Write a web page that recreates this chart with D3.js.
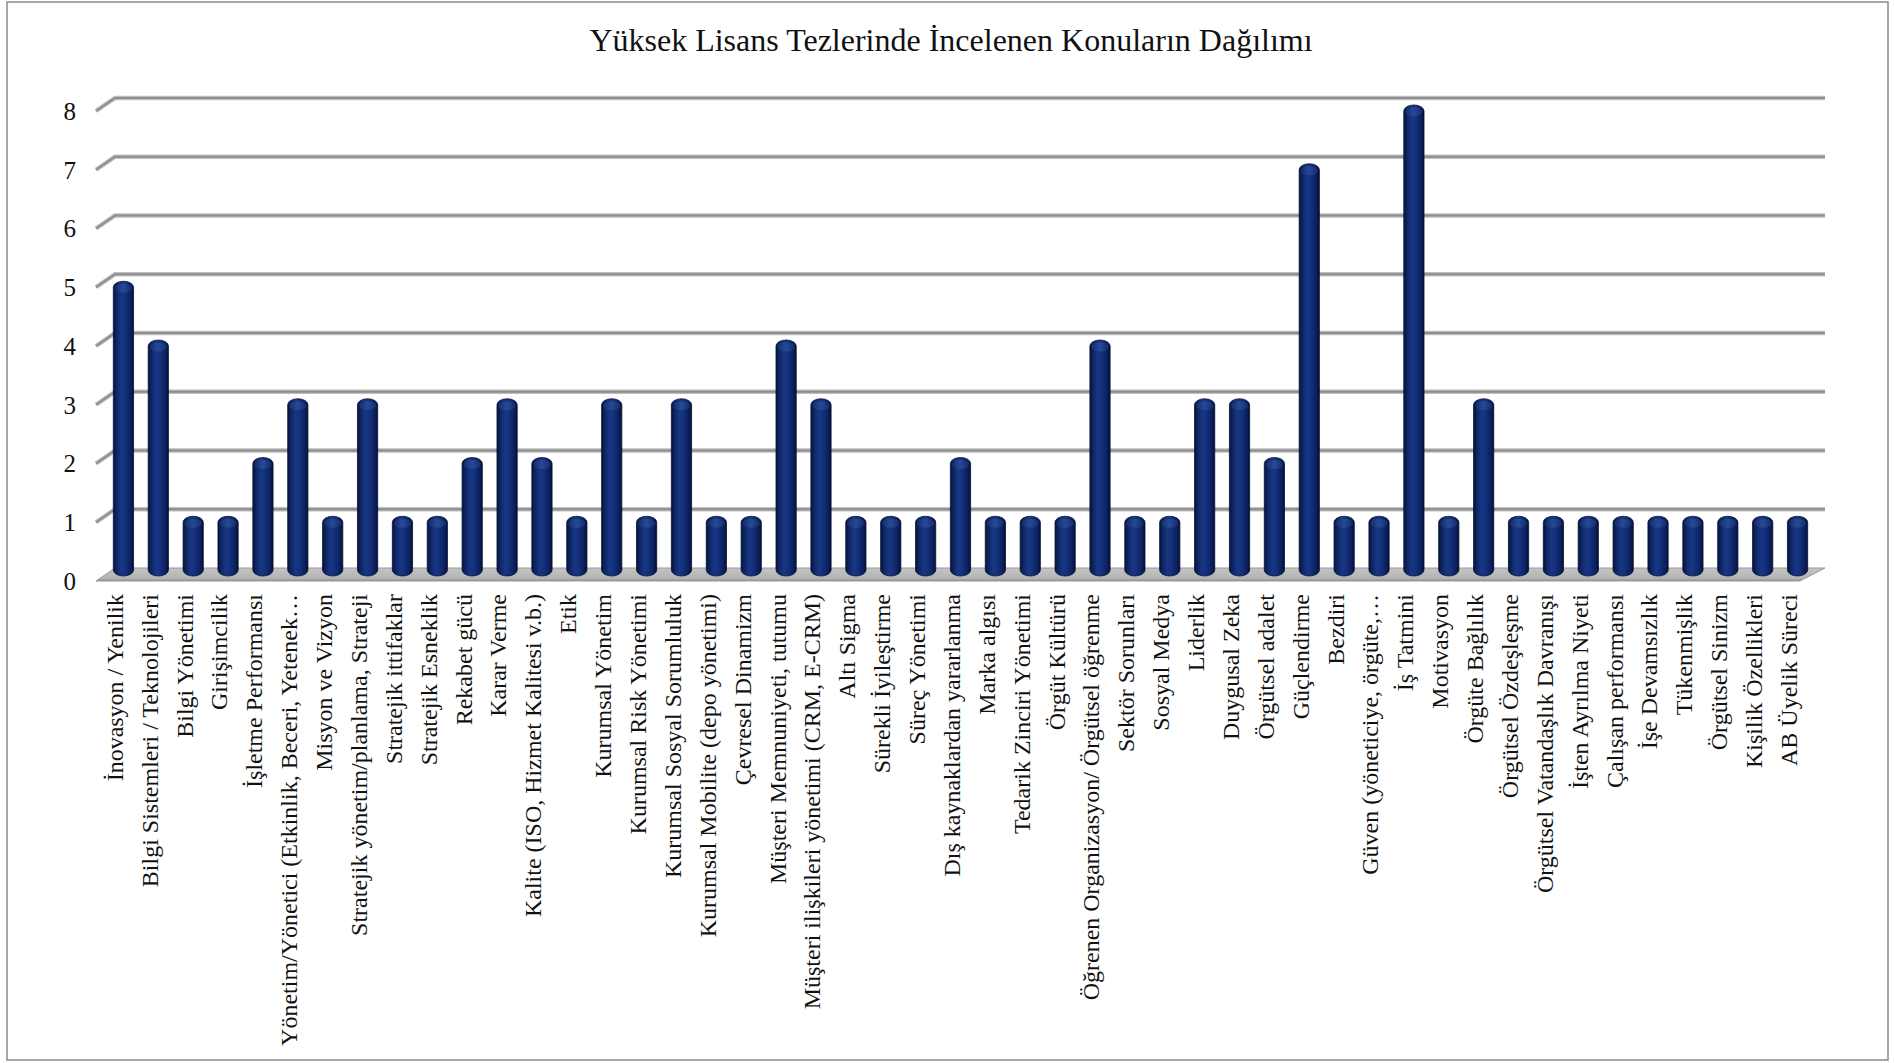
<!DOCTYPE html>
<html>
<head>
<meta charset="utf-8">
<script src="https://cdn.jsdelivr.net/npm/d3@7"></script>
<style>
  html, body { margin: 0; padding: 0; background: #ffffff; }
  svg { display: block; }
</style>
</head>
<body>
<svg id="chart" width="1894" height="1063"></svg>
<script>
const title = "Yüksek Lisans Tezlerinde İncelenen Konuların Dağılımı";

const categories = [
  "İnovasyon / Yenilik",
  "Bilgi Sistemleri / Teknolojileri",
  "Bilgi Yönetimi",
  "Girişimcilik",
  "İşletme Performansı",
  "Yönetim/Yönetici (Etkinlik, Beceri, Yetenek…",
  "Misyon ve Vizyon",
  "Stratejik yönetim/planlama, Strateji",
  "Stratejik ittifaklar",
  "Stratejik Esneklik",
  "Rekabet gücü",
  "Karar Verme",
  "Kalite (ISO, Hizmet Kalitesi v.b.)",
  "Etik",
  "Kurumsal Yönetim",
  "Kurumsal Risk Yönetimi",
  "Kurumsal Sosyal Sorumluluk",
  "Kurumsal Mobilite (depo yönetimi)",
  "Çevresel Dinamizm",
  "Müşteri Memnuniyeti, tutumu",
  "Müşteri ilişkileri yönetimi (CRM, E-CRM)",
  "Altı Sigma",
  "Sürekli İyileştirme",
  "Süreç Yönetimi",
  "Dış kaynaklardan yararlanma",
  "Marka algısı",
  "Tedarik Zinciri Yönetimi",
  "Örgüt Kültürü",
  "Öğrenen Organizasyon/ Örgütsel öğrenme",
  "Sektör Sorunları",
  "Sosyal Medya",
  "Liderlik",
  "Duygusal Zeka",
  "Örgütsel adalet",
  "Güçlendirme",
  "Bezdiri",
  "Güven (yöneticiye, örgüte,…",
  "İş Tatmini",
  "Motivasyon",
  "Örgüte Bağlılık",
  "Örgütsel Özdeşleşme",
  "Örgütsel Vatandaşlık Davranışı",
  "İşten Ayrılma Niyeti",
  "Çalışan performansı",
  "İşe Devamsızlık",
  "Tükenmişlik",
  "Örgütsel Sinizm",
  "Kişilik Özellikleri",
  "AB Üyelik Süreci"
];

const values = [
  5, 4, 1, 1, 2, 3, 1, 3, 1, 1,
  2, 3, 2, 1, 3, 1, 3, 1, 1, 4,
  3, 1, 1, 1, 2, 1, 1, 1, 4, 1,
  1, 3, 3, 2, 7, 1, 1, 8, 1, 3,
  1, 1, 1, 1, 1, 1, 1, 1, 1
];

const yTicks = [0, 1, 2, 3, 4, 5, 6, 7, 8];

// ---------- layout ----------
const svg = d3.select("#chart");
const serif = "'Liberation Serif', 'Times New Roman', serif";

// 3D-ish geometry: back wall, middle (bars), front (labels)
const yBack  = d3.scaleLinear().domain([0, 8]).range([568, 98]);
const yMid   = d3.scaleLinear().domain([0, 8]).range([575, 105]);
const yFront = d3.scaleLinear().domain([0, 8]).range([581, 111]);

const xBack  = d3.scaleBand().domain(categories).range([115, 1825]);
const xMid   = d3.scaleBand().domain(categories).range([106, 1815]).paddingInner(0.42).paddingOuter(0.21);
const xFront = d3.scaleBand().domain(categories).range([96, 1800]);

// outer frame
svg.append("rect")
  .attr("x", 7).attr("y", 2).attr("width", 1881).attr("height", 1058)
  .attr("fill", "#ffffff").attr("stroke", "#8a8a8a").attr("stroke-width", 1.5);

// title
svg.append("text")
  .attr("x", 951).attr("y", 40).attr("dy", "0.35em")
  .attr("text-anchor", "middle")
  .style("font-family", serif).style("font-size", "32px").style("fill", "#111")
  .text(title);

// defs: gradients
const defs = svg.append("defs");
const grad = defs.append("linearGradient").attr("id", "barGrad")
  .attr("x1", "0%").attr("x2", "100%").attr("y1", "0%").attr("y2", "0%");
[["0%", "#06143c"], ["18%", "#0f2767"], ["40%", "#183784"], ["60%", "#14307b"], ["85%", "#0b205e"], ["100%", "#051034"]]
  .forEach(([o, c]) => grad.append("stop").attr("offset", o).attr("stop-color", c));

const capGrad = defs.append("linearGradient").attr("id", "capGrad")
  .attr("x1", "0%").attr("x2", "100%");
[["0%", "#12306f"], ["50%", "#2a4c98"], ["100%", "#12306f"]]
  .forEach(([o, c]) => capGrad.append("stop").attr("offset", o).attr("stop-color", c));

const floorGrad = defs.append("linearGradient").attr("id", "floorGrad")
  .attr("x1", "0%").attr("x2", "0%").attr("y1", "0%").attr("y2", "100%");
[["0%", "#c4c4c4"], ["80%", "#b4b4b4"], ["100%", "#8f8f8f"]]
  .forEach(([o, c]) => floorGrad.append("stop").attr("offset", o).attr("stop-color", c));

// gridlines (back wall + left side diagonal)
const grid = svg.append("g");
yTicks.filter(v => v > 0).forEach(v => {
  grid.append("path")
    .attr("d", `M${xFront.range()[0]},${yFront(v)} L${xBack.range()[0]},${yBack(v)} L${xBack.range()[1]},${yBack(v)}`)
    .attr("fill", "none").attr("stroke", "#bdbdbd").attr("stroke-width", 4.5);
  grid.append("path")
    .attr("d", `M${xFront.range()[0]},${yFront(v)} L${xBack.range()[0]},${yBack(v)} L${xBack.range()[1]},${yBack(v)}`)
    .attr("fill", "none").attr("stroke", "#8d8d8d").attr("stroke-width", 2);
});

// floor
const floorPts = [
  [xBack.range()[0], yBack(0)],
  [xBack.range()[1], yBack(0)],
  [xFront.range()[1], yFront(0)],
  [xFront.range()[0], yFront(0)]
];
svg.append("path")
  .attr("d", "M" + floorPts.map(p => p.join(",")).join("L") + "Z")
  .attr("fill", "url(#floorGrad)").attr("stroke", "#9a9a9a").attr("stroke-width", 1);

// y tick labels
svg.append("g").selectAll("text").data(yTicks).join("text")
  .attr("x", 76).attr("y", d => yFront(d)).attr("dy", "0.35em")
  .attr("text-anchor", "end")
  .style("font-family", serif).style("font-size", "25px").style("fill", "#111")
  .text(d => d);

// bars (cylinder-like)
const bw = xMid.bandwidth();
const ry = 6;
const bars = svg.append("g");
const data = categories.map((c, i) => ({ c, v: values[i] }));

bars.selectAll("path.bar").data(data).join("path")
  .attr("class", "bar")
  .attr("d", d => {
    const x0 = xMid(d.c), x1 = x0 + bw, r = bw / 2;
    const top = yMid(d.v), bot = yMid(0) + 1;
    return `M${x0},${bot - ry} L${x0},${top + ry} A${r},${ry} 0 0 1 ${x1},${top + ry} L${x1},${bot - ry} A${r},${ry} 0 0 1 ${x0},${bot - ry} Z`;
  })
  .attr("fill", "url(#barGrad)")
  .attr("stroke", "#061236").attr("stroke-width", 0.8);

bars.selectAll("ellipse.cap").data(data).join("ellipse")
  .attr("class", "cap")
  .attr("cx", d => xMid(d.c) + bw / 2)
  .attr("cy", d => yMid(d.v) + ry + 1)
  .attr("rx", bw / 2 - 1.5).attr("ry", ry - 1.5)
  .attr("fill", "url(#capGrad)").attr("opacity", 0.85);

// x labels (rotated)
svg.append("g").selectAll("text").data(categories).join("text")
  .attr("transform", d => `translate(${xMid(d) + bw / 2 - 9},594) rotate(-90)`)
  .attr("dy", "0.35em")
  .attr("text-anchor", "end")
  .style("font-family", serif).style("font-size", "24px").style("fill", "#111")
  .text(d => d);
</script>
</body>
</html>
